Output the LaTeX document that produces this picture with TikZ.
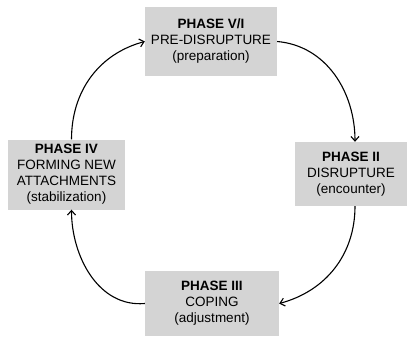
\documentclass[tikz,border=0pt]{standalone}
\usepackage{fontspec}
\setmainfont{Liberation Sans}
\usetikzlibrary{arrows.meta}
\definecolor{boxgray}{RGB}{212,212,212}
\begin{document}
\begin{tikzpicture}[x=1pt,y=1pt,
  phasebox/.style={fill=boxgray, draw=none, align=center, inner sep=0pt,
    font=\fontsize{13.5}{16}\selectfont},
  cyclearrow/.style={line width=1.1pt, -{Straight Barb[length=4.5pt,width=8pt]}}]
  \useasboundingbox (0,0) rectangle (409,338);

  % the four phases of the cycle
  \node[phasebox, minimum width=132, minimum height=69] (T) at (211,296.5)
    {\textbf{PHASE V/I}\\PRE-DISRUPTURE\\(preparation)};
  \node[phasebox, minimum width=112, minimum height=64] (R) at (351,164)
    {\textbf{PHASE II}\\DISRUPTURE\\(encounter)};
  \node[phasebox, minimum width=134, minimum height=65] (B) at (212,34.5)
    {\textbf{PHASE III}\\COPING\\(adjustment)};
  \node[phasebox, minimum width=117, minimum height=70] (L) at (66.5,163.5)
    {\textbf{PHASE IV}\\FORMING NEW\\ATTACHMENTS\\(stabilization)};

  % clockwise transitions
  \draw[cyclearrow] ([xshift=5pt]L.north) to[out=90,in=195] (T.west);
  \draw[cyclearrow] (T.east) to[out=-5,in=90] ([xshift=4pt]R.north);
  \draw[cyclearrow] ([xshift=4pt]R.south) to[out=-90,in=15] (B.east);
  \draw[cyclearrow] (B.west) to[out=185,in=-90] ([xshift=5pt]L.south);
\end{tikzpicture}
\end{document}
